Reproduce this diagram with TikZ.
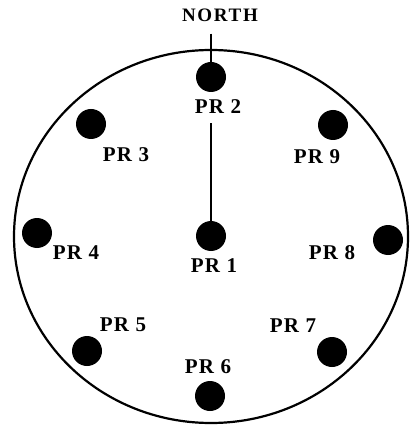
\documentclass[tikz,border=0pt]{standalone}
\usepackage{fontspec}
\setmainfont{Liberation Serif}
\newfontfamily\prfont[LetterSpace=6]{Liberation Serif}
\newfontfamily\northfont[LetterSpace=9]{Liberation Serif}
\usetikzlibrary{positioning}
\tikzset{
  probe/.style={circle, fill=black, minimum size=30pt, inner sep=0pt},
  prlabel/.style={font=\prfont\fontsize{21}{21}\selectfont\bfseries, inner sep=0pt},
  thinline/.style={line width=1.5pt},
}

\begin{document}
\begin{tikzpicture}[x=1pt, y=-1pt]
  \useasboundingbox (0,0) rectangle (409,427);

  % Outer ring
  \draw[line width=2.2pt] (211,236.5) ellipse [x radius=197, y radius=186.5];

  % Probes
  \node[probe] (pr1) at (211,236) {};
  \node[probe] (pr2) at (211,77) {};
  \node[probe] (pr3) at (91,124) {};
  \node[probe] (pr4) at (37,233) {};
  \node[probe] (pr5) at (87,351) {};
  \node[probe] (pr6) at (210,396) {};
  \node[probe] (pr7) at (332,352) {};
  \node[probe] (pr8) at (388,240) {};
  \node[probe] (pr9) at (333,125) {};

  % Labels
  \node[prlabel] (lab1) at (214,266) {PR 1};
  \node[prlabel] (lab2) at (218,107) {PR 2};
  \node[prlabel] (lab3) at (126,155) {PR 3};
  \node[prlabel] (lab4) at (76,253) {PR 4};
  \node[prlabel] (lab5) at (123,325) {PR 5};
  \node[prlabel] (lab6) at (208,367) {PR 6};
  \node[prlabel] (lab7) at (293,326) {PR 7};
  \node[prlabel] (lab8) at (332,253) {PR 8};
  \node[prlabel] (lab9) at (317,157) {PR 9};
  \node[font=\northfont\fontsize{19}{19}\selectfont\bfseries, inner sep=0pt] (north) at (220,15) {NORTH};

  % North marker and radius
  \draw[thinline] ([yshift=-12pt]north.south -| pr2) -- (pr2);
  \draw[thinline, shorten >=9pt] (pr1) -- (pr1 |- lab2.south);
\end{tikzpicture}
\end{document}
